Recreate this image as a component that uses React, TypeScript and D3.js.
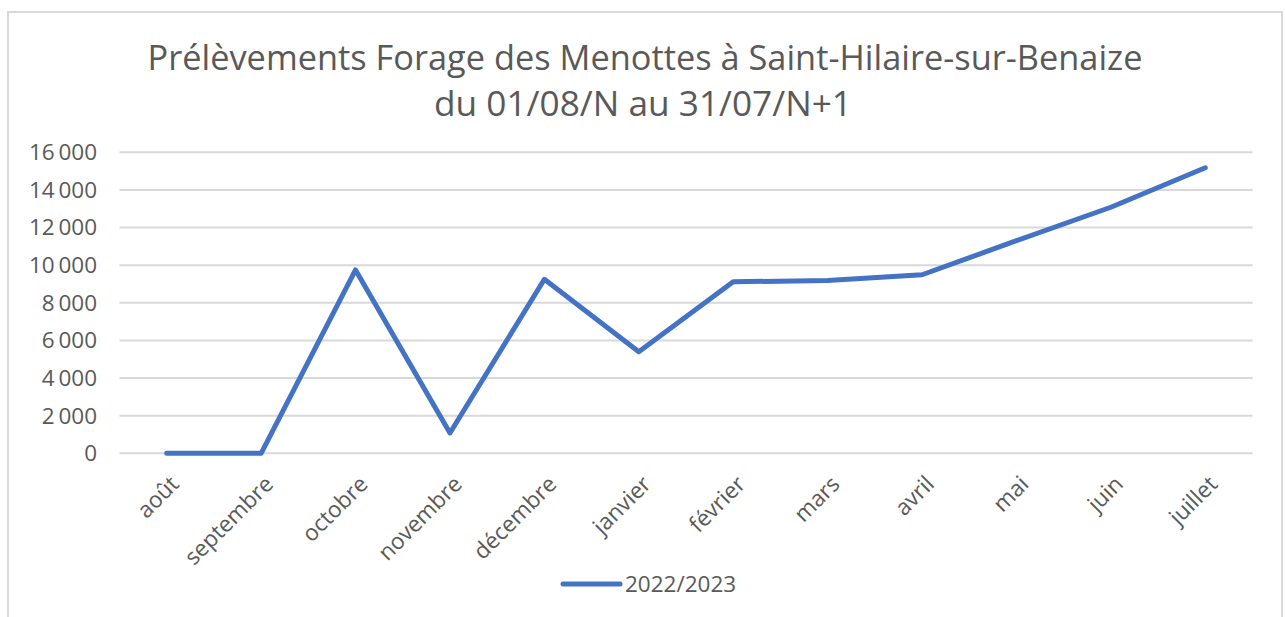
import React from "react";
import * as d3 from "d3";

const months = ["août", "septembre", "octobre", "novembre", "décembre", "janvier", "février", "mars", "avril", "mai", "juin", "juillet"];
const values2022 = [0, 0, 9750, 1080, 9250, 5400, 9120, 9180, 9490, 11300, 13080, 15180];
const yTicks = [0, 2000, 4000, 6000, 8000, 10000, 12000, 14000, 16000];
const seriesName = "2022/2023";
const titleLines = ["Prélèvements Forage des Menottes à Saint-Hilaire-sur-Benaize", "du 01/08/N au 31/07/N+1"];

const W = 1285, H = 617;
const FONT = "Open Sans, Noto Sans, sans-serif";
const TXT = "#595959";
const BLUE = "#4472C4";

export default function App() {
  const x = d3.scaleBand<string>().domain(months).range([119.5, 1252.5]);
  const y = d3.scaleLinear().domain([0, 16000]).range([453.3, 152.3]);
  const fmt = (v: number) => d3.format(",")(v).replace(/,/g, "\u2009");
  const line = d3.line<number>()
    .x((_, i) => (x(months[i]) as number) + x.bandwidth() / 2)
    .y((d) => y(d));
  return (
    <svg width={W} height={H} style={{ position: "absolute", left: 0, top: 0, background: "#fff" }}>
      <rect x={0} y={0} width={W} height={H} fill="#fff" />
      <rect x={8} y={12} width={1274} height={620} fill="none" stroke="#d9d9d9" strokeWidth={2} />
      <g fontFamily={FONT} fill={TXT} textAnchor="middle">
        <text x={645} y={70} fontSize={34} textLength={995} lengthAdjust="spacingAndGlyphs">{titleLines[0]}</text>
        <text x={643} y={116} fontSize={34} textLength={418} lengthAdjust="spacingAndGlyphs">{titleLines[1]}</text>
      </g>
      <g>
        {yTicks.map((t) => (
          <line key={t} x1={119.5} x2={1252.5} y1={y(t)} y2={y(t)} stroke="#d9d9d9" strokeWidth={2} />
        ))}
      </g>
      <g fontFamily={FONT} fill={TXT} fontSize={22.5} textAnchor="end">
        {yTicks.map((t) => (
          <text key={t} x={97} y={y(t)} dy="0.35em">{fmt(t)}</text>
        ))}
      </g>
      <g fontFamily={FONT} fill={TXT} fontSize={22.5} textAnchor="end">
        {months.map((m) => {
          const cx = (x(m) as number) + x.bandwidth() / 2 + 8;
          const cy = 480;
          return (
            <text key={m} x={cx} y={cy} dy="0.35em" transform={`rotate(-45 ${cx} ${cy})`}>{m}</text>
          );
        })}
      </g>
      <path d={line(values2022) || ""} fill="none" stroke={BLUE} strokeWidth={5} strokeLinecap="round" strokeLinejoin="round" />
      <g>
        <line x1={563} x2={620} y1={584} y2={584} stroke={BLUE} strokeWidth={5} strokeLinecap="round" />
        <text x={625} y={584} dy="0.35em" fontFamily={FONT} fontSize={22.5} fill={TXT}>{seriesName}</text>
      </g>
    </svg>
  );
}
